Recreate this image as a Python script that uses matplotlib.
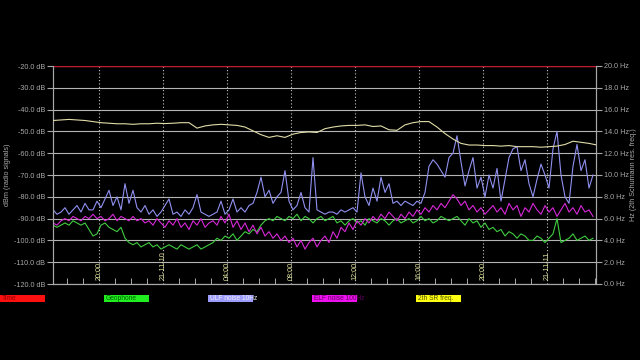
import numpy as np
import matplotlib
matplotlib.use("Agg")
import matplotlib.pyplot as plt
from matplotlib.patches import Rectangle

plt.rcParams["font.family"] = ["Liberation Sans", "DejaVu Sans"]

# hours since 21-11-09 00:00
start_hour = 17.125
noise_step = 0.25
sr_step = 0.5

geophone = [
    -93, -94, -93, -92, -93, -91, -92, -93, -92, -95,
    -98, -97, -93, -92, -94, -95, -96, -94, -99, -101,
    -102, -101, -103, -102, -101, -103, -102, -104, -103, -102,
    -103, -104, -102, -103, -104, -103, -102, -104, -103, -102,
    -101, -99, -100, -98, -99, -97, -100, -98, -96, -97,
    -95, -96, -93, -91, -90, -91, -89, -90, -91, -89,
    -90, -88, -91, -89, -90, -92, -90, -89, -91, -90,
    -89, -92, -91, -93, -91, -90, -92, -91, -93, -90,
    -91, -92, -90, -91, -93, -91, -90, -92, -91, -90,
    -92, -91, -89, -91, -90, -92, -91, -89, -90, -91,
    -90, -89, -91, -93, -90, -92, -91, -94, -92, -95,
    -94, -96, -95, -98, -96, -97, -99, -97, -98, -100,
    -100, -98, -99, -101, -99, -97, -90, -101, -100, -99,
    -97, -100, -99, -98, -100, -99,
]

ulf_noise = [
    -86, -88, -87, -85, -88, -86, -84, -87, -83, -86,
    -86, -82, -85, -81, -77, -84, -80, -86, -74, -83,
    -77, -85, -87, -84, -88, -86, -89, -87, -84, -81,
    -88, -87, -89, -86, -88, -85, -79, -87, -88, -89,
    -88, -87, -82, -88, -86, -81, -87, -85, -87, -84,
    -83, -78, -71, -80, -77, -83, -80, -78, -68, -82,
    -86, -84, -78, -85, -87, -62, -86, -87, -88, -87,
    -87, -88, -86, -87, -86, -85, -87, -69, -80, -84,
    -76, -82, -71, -78, -74, -83, -82, -84, -82, -83,
    -84, -82, -83, -78, -66, -63, -65, -68, -71, -62,
    -60, -52, -64, -75, -68, -62, -76, -71, -80, -70,
    -76, -67, -82, -72, -62, -58, -57, -68, -63, -74,
    -80, -72, -65, -70, -76, -58, -50, -70, -80, -83,
    -66, -56, -68, -63, -76, -70,
]

elf_noise = [
    -92, -93, -91, -90, -91, -89, -90, -91, -89, -90,
    -88, -90, -89, -91, -90, -88, -91, -89, -90, -91,
    -89, -91, -90, -92, -91, -93, -90, -92, -94, -91,
    -93, -90, -94, -92, -95, -91, -93, -90, -94, -92,
    -91, -93, -89, -92, -88, -94, -91, -95, -92, -96,
    -93, -97, -94, -98, -96, -99, -97, -100, -98, -101,
    -99, -103, -100, -104, -101, -99, -103, -100, -98, -101,
    -96, -99, -94, -96, -92, -95, -91, -93, -90, -92,
    -89, -91, -88, -90, -87, -89, -91, -88, -90, -87,
    -89, -86, -88, -85, -87, -84, -86, -83, -85, -82,
    -79, -81, -84, -82, -86, -84, -87, -85, -88, -86,
    -84, -87, -85, -88, -83, -86, -84, -89, -85, -87,
    -83, -86, -88, -84, -87, -85, -89, -86, -83, -87,
    -85, -88, -84, -87, -86, -89,
]

sr_freq = [
    15.0, 15.05, 15.1, 15.05, 15.0, 14.9, 14.8, 14.75, 14.7, 14.7,
    14.65, 14.7, 14.7, 14.75, 14.72, 14.75, 14.8, 14.8, 14.3, 14.5,
    14.6, 14.65, 14.6, 14.55, 14.4, 14.05, 13.7, 13.45, 13.6, 13.45,
    13.75, 13.9, 13.95, 13.9, 14.25, 14.4, 14.5, 14.55, 14.55, 14.6,
    14.45, 14.5, 14.15, 14.1, 14.6, 14.8, 14.9, 14.9, 14.4, 13.8,
    13.3, 12.9, 12.75, 12.75, 12.7, 12.7, 12.65, 12.7, 12.6, 12.6,
    12.6, 12.55, 12.6, 12.65, 12.8, 13.1, 13.0, 12.9, 12.75,
]

time_level = -20.0

tick_hours = [20, 24, 28, 32, 36, 40, 44, 48]
tick_labels = ["20:00", "21-11-10", "04:00", "08:00", "12:00", "16:00", "20:00", "21-11-11"]

db_ticks = list(range(-20, -121, -10))
hz_ticks = list(range(20, -1, -2))

legend_names = ["Time", "Geophone", "ULF noise 10Hz", "ELF noise 100Hz", "2th SR freq."]
legend_fill = ["#ff1010", "#20ee20", "#9c9cff", "#ee10ee", "#ffff10"]
legend_text = ["#900000", "#006000", "#f0f0ff", "#600060", "#505000"]

grey = "#a8a8a8"

t_noise = start_hour + noise_step * np.arange(len(geophone))
t_sr = start_hour + sr_step * np.arange(len(sr_freq))

fig = plt.figure(figsize=(6.4, 3.6), dpi=100, facecolor="black")
ax = fig.add_axes([53 / 640, 1 - 284 / 360, 543 / 640, 218 / 360])
ax.set_facecolor("black")
ax2 = ax.twinx()

ax.set_xlim(start_hour, start_hour + 543 / 16)
ax.set_ylim(-120, -20)
ax2.set_ylim(0, 20)

for v in db_ticks:
    ax.axhline(v, color="#b4b4b4", lw=0.8, zorder=1)
for h in tick_hours:
    ax.axvline(h, color="#c8c8c8", lw=0.8, ls=(0, (1, 2)), zorder=1)
    ax.text(h, 0.02, tick_labels[tick_hours.index(h)], transform=ax.get_xaxis_transform(),
            rotation=90, ha="center", va="bottom", fontsize=5.2, color="#e4e4a0", zorder=5)

ax.axhline(time_level, color="#c01830", lw=1.0, zorder=3)
ax.plot(t_noise, geophone, color="#40cc40", lw=0.8, zorder=3)
ax.plot(t_noise, ulf_noise, color="#9090f0", lw=0.8, zorder=3)
ax.plot(t_noise, elf_noise, color="#d828d8", lw=0.8, zorder=4)
ax2.plot(t_sr, sr_freq, color="#e0dca8", lw=0.8, zorder=3)

ax.set_yticks(db_ticks)
ax.set_yticklabels([f"{v:.1f} dB" for v in db_ticks])
ax2.set_yticks(hz_ticks)
ax2.set_yticklabels([f"{v:.1f} Hz" for v in hz_ticks])

ax.set_xticks(tick_hours)
ax.set_xticklabels([])
ax.set_xticks(np.arange(18, 52), minor=True)
ax.tick_params(axis="x", which="major", length=0)
ax.tick_params(axis="x", which="minor", direction="in", length=4, color=grey, width=0.7)
ax.tick_params(axis="y", length=4, color=grey, labelsize=5.2, labelcolor=grey, pad=1.5)
ax2.tick_params(axis="y", length=4, color=grey, labelsize=5.2, labelcolor=grey, pad=1.5)

for a in (ax, ax2):
    for s in a.spines.values():
        s.set_color(grey)
        s.set_linewidth(0.8)
    a.spines["top"].set_visible(False)

ax.set_ylabel("dBm (radio signals)", color=grey, fontsize=5.2)
ax.yaxis.set_label_coords(-0.077, 0.5)
ax2.set_ylabel("Hz (2th Schumann res. freq.)", color=grey, fontsize=5.2, rotation=90)
ax2.yaxis.set_label_coords(1.062, 0.5)

for i, name in enumerate(legend_names):
    x0 = i * 104 / 640
    fig.patches.append(Rectangle((x0, 1 - 302 / 360), 45 / 640, 7 / 360,
                                 transform=fig.transFigure, facecolor=legend_fill[i], edgecolor="none"))
    fig.text(x0 + 2 / 640, 1 - 298.5 / 360, name, fontsize=4.8, color=legend_text[i],
             va="center", ha="left")

fig.savefig("out.png", dpi=100, facecolor="black")
